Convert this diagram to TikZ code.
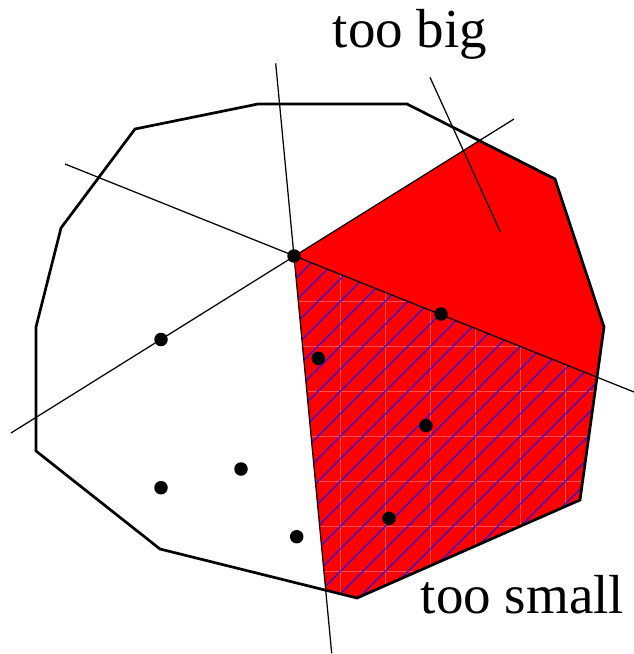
\documentclass[tikz,border=0pt]{standalone}
\usepackage{fontspec}
\setmainfont{Liberation Serif}
\definecolor{gridc}{RGB}{255,80,80}
\definecolor{hatchc}{RGB}{40,20,225}
\begin{document}
\begin{tikzpicture}[x=1pt,y=-1pt,
  outline/.style={line width=2.7pt, line join=miter},
  thinline/.style={line width=1.25pt},
  blackdot/.style={circle, fill=black, inner sep=0pt, minimum size=13.5pt},
  lbl/.style={font=\fontsize{55}{60}\selectfont, inner sep=0pt, anchor=base}]
\useasboundingbox (0,0) rectangle (634,654);
% key points
\coordinate (C) at (294,256);
\coordinate (A) at (479.3,140.6);
\coordinate (D) at (597,377.2);
\coordinate (B) at (325.7,590.2);
% outline vertices
\coordinate (o1) at (135,129);
\coordinate (o2) at (258,104);
\coordinate (o3) at (407,104);
\coordinate (o4) at (555,179);
\coordinate (o5) at (604,327);
\coordinate (o6) at (580,500);
\coordinate (o7) at (357,598);
\coordinate (o8) at (160,549);
\coordinate (o9) at (36,451);
\coordinate (o10) at (36,327);
\coordinate (o11) at (61,228);
% line ends
\coordinate (L1a) at (11,433);
\coordinate (L1b) at (514,119);
\coordinate (L2a) at (65,164);
\coordinate (L2b) at (634,392);
\coordinate (L3a) at (275.7,63.3);
\coordinate (L3b) at (331.7,653.3);
\coordinate (P1) at (430,77.3);
\coordinate (P2) at (500.3,231.7);
% red region
\fill[red] (C) -- (A) -- (o4) -- (o5) -- (o6) -- (o7) -- (B) -- cycle;
% hatched part
\begin{scope}
\clip (C) -- (D) -- (o6) -- (o7) -- (B) -- cycle;
\foreach \k in {-2,...,6}
  \draw[gridc, line width=0.45pt] ({340+45*\k},200) -- ({340+45*\k},620);
\foreach \k in {-4,...,5}
  \draw[gridc, line width=0.45pt] (280,{391.7+45*\k}) -- (620,{391.7+45*\k});
\foreach \n in {-9,...,16}
  \draw[hatchc, line width=1.3pt] (250,{481.7+22.5*\n}) -- (650,{81.7+22.5*\n});
\end{scope}
% outline
\draw[outline] (o1) -- (o2) -- (o3) -- (o4) -- (o5) -- (o6) -- (o7) -- (o8) -- (o9) -- (o10) -- (o11) -- cycle;
% thin lines
\draw[thinline] (L1a) -- (L1b);
\draw[thinline] (L2a) -- (L2b);
\draw[thinline] (L3a) -- (L3b);
\draw[thinline] (P1) -- (P2);
% points
\node[blackdot] (d0) at (C) {};
\node[blackdot] (d1) at (161,339.5) {};
\node[blackdot] (d2) at (441,314) {};
\node[blackdot] (d3) at (318.3,358.3) {};
\node[blackdot] (d4) at (426,425.7) {};
\node[blackdot] (d5) at (389,518.3) {};
\node[blackdot] (d6) at (296.7,536.7) {};
\node[blackdot] (d7) at (161,487.7) {};
\node[blackdot] (d8) at (241,469) {};
% labels
\node[lbl] (big) at (410,47) {too big};
\node[lbl] (small) at (522.5,613) {too small};
\end{tikzpicture}
\end{document}
